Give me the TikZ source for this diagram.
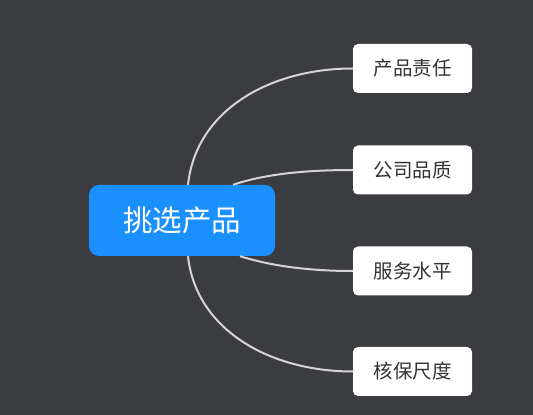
\documentclass[tikz,border=0pt]{standalone}
\usepackage{fontspec}
\setmainfont{Noto Sans CJK SC}
\definecolor{bgc}{HTML}{3A3C3F}
\definecolor{rootblue}{HTML}{1A8FFE}
\definecolor{leaftext}{HTML}{333333}
\definecolor{linkgray}{HTML}{D4D4D4}
\begin{document}
\begin{tikzpicture}[x=1pt,y=1pt,
  root/.style={fill=rootblue, rounded corners=10pt, minimum width=186pt, minimum height=71pt, text=white, font=\fontsize{29.5}{34}\selectfont, inner sep=0pt},
  leaf/.style={fill=white, rounded corners=5pt, minimum width=119pt, minimum height=49pt, text=leaftext, font=\fontsize{19.5}{23}\selectfont, inner sep=0pt},
  link/.style={draw=linkgray, line width=2pt}]
\fill[bgc] (0,0) rectangle (533,415);
\useasboundingbox (0,0) rectangle (533,415);
\node[root] (c) at (182,194.5) {挑选产品};
\node[leaf] (n1) at (412.5,346.5) {产品责任};
\node[leaf] (n2) at (412.5,245) {公司品质};
\node[leaf] (n3) at (412.5,144) {服务水平};
\node[leaf] (n4) at (412.5,43.5) {核保尺度};
\draw[link] ([xshift=6pt]c.north) .. controls (196,305) and (270,346.5) .. (n1.west);
\draw[link] ([xshift=51pt]c.north) .. controls (262,240) and (300,245) .. (n2.west);
\draw[link] ([xshift=58pt]c.south) .. controls (268,150) and (305,144) .. (n3.west);
\draw[link] ([xshift=6pt]c.south) .. controls (196,85) and (270,43.5) .. (n4.west);
\end{tikzpicture}
\end{document}
